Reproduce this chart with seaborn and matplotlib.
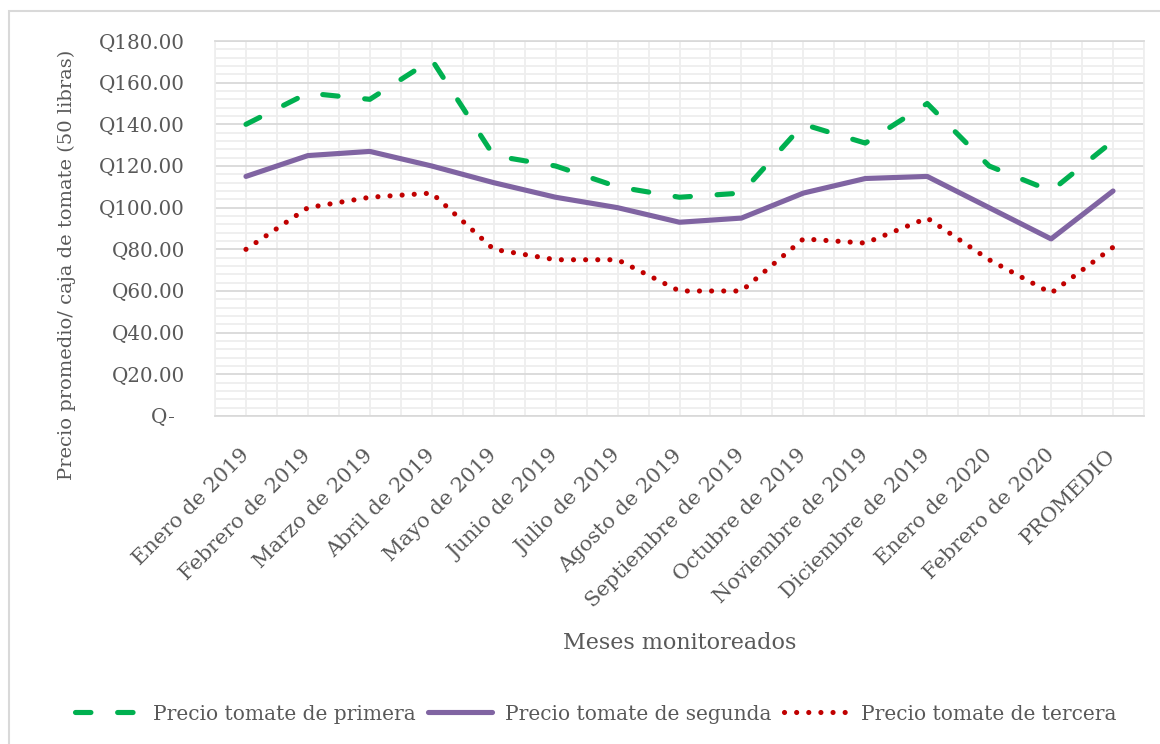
import numpy as np
import pandas as pd
import seaborn as sns
import matplotlib.pyplot as plt
from matplotlib.patches import Rectangle
from matplotlib.ticker import MultipleLocator, FuncFormatter

meses = ['Enero de 2019', 'Febrero de 2019', 'Marzo de 2019', 'Abril de 2019',
         'Mayo de 2019', 'Junio de 2019', 'Julio de 2019', 'Agosto de 2019',
         'Septiembre de 2019', 'Octubre de 2019', 'Noviembre de 2019',
         'Diciembre de 2019', 'Enero de 2020', 'Febrero de 2020', 'PROMEDIO']

primera = [140, 155, 152, 171, 125, 120, 110, 105, 107, 140, 131, 150, 120, 108, 132]
segunda = [115, 125, 127, 120, 112, 105, 100, 93, 95, 107, 114, 115, 100, 85, 108]
tercera = [80, 100, 105, 107, 80, 75, 75, 60, 60, 85, 83, 95, 75, 59, 81]

series = ['Precio tomate de primera', 'Precio tomate de segunda',
          'Precio tomate de tercera']

df = pd.DataFrame({
  'pos': list(range(len(meses))) * 3,
  'precio': primera + segunda + tercera,
  'serie': np.repeat(series, len(meses)),
})

sns.set_theme(style='white')
plt.rcParams['font.family'] = ['DejaVu Serif']

fig = plt.figure(figsize=(11.6, 7.44), dpi=100)
ax = fig.add_axes([215 / 1160, 1 - 416 / 744, (1144 - 215) / 1160, (416 - 41) / 744])

# outer chart border
fig.patches.append(Rectangle((9 / 1160, -0.01), 1.1, 1 - 11 / 744 + 0.01,
                             transform=fig.transFigure, fill=False,
                             edgecolor='#d9d9d9', linewidth=1.5))

colores = {series[0]: '#00b050', series[1]: '#8064a2', series[2]: '#c00000'}
LW = 3.7
DASH = (3.0, 5.2)
DOT = (0.01, 2.35)

sns.lineplot(data=df, x='pos', y='precio', hue='serie', palette=colores,
             ax=ax, legend=False, linewidth=LW, zorder=3)

lines = ax.get_lines()
lines[0].set_dashes(DASH)
lines[0].set_dash_capstyle('round')
lines[2].set_dashes(DOT)
lines[2].set_dash_capstyle('round')

ax.set_xlim(-0.5, len(meses) - 0.5)
ax.set_ylim(0, 180)
ax.yaxis.set_major_locator(MultipleLocator(20))
ax.yaxis.set_minor_locator(MultipleLocator(4))
ax.set_xticks(range(len(meses)))
ax.set_xticks(np.arange(-0.5, len(meses), 1.0), minor=True)
ax.grid(which='minor', axis='both', color='#eeeeee', linewidth=1.3, zorder=0)
ax.grid(which='major', axis='x', color='#eeeeee', linewidth=1.3, zorder=0)
ax.grid(which='major', axis='y', color='#d9d9d9', linewidth=1.3, zorder=1)
ax.set_axisbelow(True)
for side in ['left', 'right']:
  ax.spines[side].set_color('#eeeeee')
ax.spines['bottom'].set_color('#d9d9d9')
ax.spines['top'].set_color('#d9d9d9')

ax.yaxis.set_major_formatter(FuncFormatter(
  lambda v, p: 'Q- \u2009' if v == 0 else 'Q{:.2f}'.format(v)))
ax.tick_params(axis='both', which='both', length=0, labelcolor='#595959')
ax.tick_params(axis='y', pad=21.5, labelsize=14.3)
ax.set_xticklabels(meses, rotation=45, ha='right', va='center',
                   rotation_mode='anchor', fontsize=15)
ax.tick_params(axis='x', pad=26)

ax.set_xlabel('Meses monitoreados', fontsize=16, color='#595959')
ax.xaxis.set_label_coords(0.5, (416 - 632) / 375)
ax.set_ylabel('Precio promedio/ caja de tomate (50 libras)', fontsize=14,
              color='#595959')
ax.yaxis.set_label_coords((76 - 215) / 929, (416 - 265) / 375)

handles = [plt.Line2D([], [], color=l.get_color(), linewidth=LW) for l in lines]
handles[0].set_dashes(DASH)
handles[0].set_dash_capstyle('round')
handles[2].set_dashes(DOT)
handles[2].set_dash_capstyle('round')
fig.legend(handles, series, loc='center', bbox_to_anchor=(596 / 1160, 1 - 714 / 744),
           ncol=3, frameon=False, fontsize=14.5, handlelength=3.2,
           handletextpad=0.65, columnspacing=0.6, labelcolor='#595959')

fig.savefig('out.png', dpi=100)
